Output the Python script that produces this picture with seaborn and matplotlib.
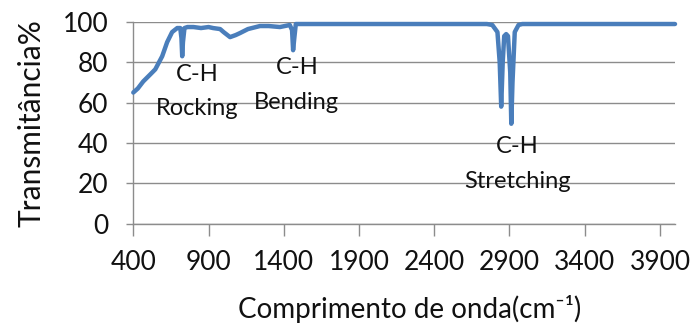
import matplotlib
matplotlib.use("Agg")
import matplotlib.pyplot as plt
import seaborn as sns
import pandas as pd

wavenumber = [400, 430, 466, 513, 546, 592, 625, 658, 692, 712, 720, 725, 730, 740, 760,
              800, 850, 900, 930, 977, 1000, 1043, 1080, 1109, 1162, 1242, 1300, 1374,
              1440, 1455, 1462, 1470, 1480, 1500, 1800, 2200, 2600, 2750, 2786, 2820,
              2835, 2845, 2855, 2865, 2878, 2890, 2905, 2912, 2920, 2935, 2960, 2985,
              3500, 4000]
transmittance = [65, 67, 70.5, 74, 76.5, 83, 90, 95, 97, 97, 92, 83, 90, 97, 97.5,
                 97.5, 97, 97.5, 97, 96.5, 95, 92.5, 93.5, 94.5, 96.5, 98, 98, 97.5,
                 98.5, 96, 86, 92, 99, 99, 99, 99, 99, 99, 98.5, 95,
                 80, 58, 80, 93, 94, 93, 75, 49.5, 70, 95, 98.5, 99,
                 99, 99]

xticks = [400, 900, 1400, 1900, 2400, 2900, 3400, 3900]
yticks = [0, 20, 40, 60, 80, 100]

annotations = [("C-H", 824, 74), ("Rocking", 824, 57),
               ("C-H", 1487, 77.5), ("Bending", 1487, 60),
               ("C-H", 2951, 38), ("Stretching", 2951, 21)]

sns.set_style("white")
plt.rcParams['font.family'] = ['Lato', 'DejaVu Sans']

df = pd.DataFrame({"wn": wavenumber, "T": transmittance})

fig = plt.figure(figsize=(6.96, 3.36), dpi=100)
ax = fig.add_axes([133.3 / 696, 1 - 223.5 / 336, (675 - 133.3) / 696, (223.5 - 22) / 336])
sns.lineplot(data=df, x="wn", y="T", ax=ax, color="#4a7ebb", linewidth=3.2,
             clip_on=False, zorder=3)

ax.set_xlim(400, 4000)
ax.set_ylim(0, 100)
ax.set_xticks(xticks)
ax.set_yticks(yticks)
ax.yaxis.grid(True, color="#8c8c8c", linewidth=1.0)
ax.xaxis.grid(False)
for s in ["top", "right"]:
    ax.spines[s].set_visible(False)
for s in ["left", "bottom"]:
    ax.spines[s].set_color("#8c8c8c")
    ax.spines[s].set_linewidth(1.0)

ax.tick_params(axis="y", which="major", direction="out", length=5, width=1,
               color="#8c8c8c", pad=13, labelsize=19, left=True, labelcolor="#111111")
ax.tick_params(axis="x", which="major", direction="out", length=8.4, width=1,
               color="#8c8c8c", pad=11, labelsize=19, bottom=True, labelcolor="#111111")

ax.set_xlabel("Comprimento de onda(cm⁻¹)", fontsize=20, labelpad=14, color="#111111")
ax.xaxis.label.set_x(0.511)
ax.set_ylabel("Transmitância%", fontsize=21.5, labelpad=12, color="#111111")

for txt, x, y in annotations:
    ax.text(x, y, txt, ha="center", va="center", fontsize=17, color="#111111")

fig.savefig("out.png", dpi=100)
